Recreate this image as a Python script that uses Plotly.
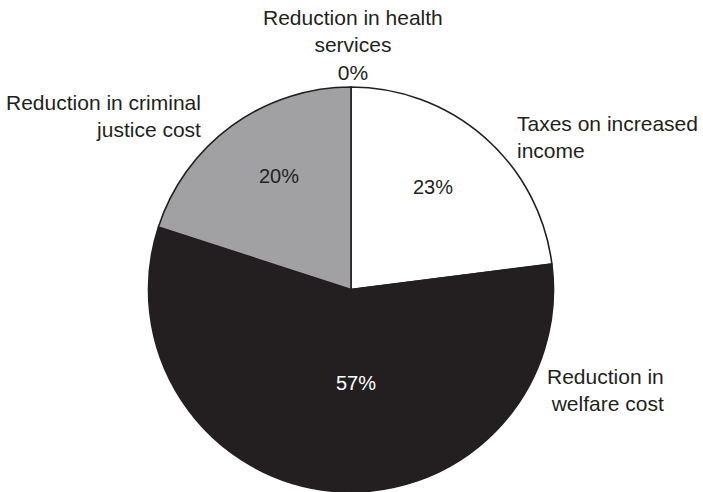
import plotly.graph_objects as go

categories = ["Reduction in health services", "Taxes on increased income",
              "Reduction in welfare cost", "Reduction in criminal justice cost"]
values = [0, 23, 57, 20]
colors = ["#ffffff", "#ffffff", "#231f20", "#a1a1a4"]
pct_colors = ["#231f20", "#231f20", "#ffffff", "#231f20"]

# label display (line-broken) and placement (paper coords)
label_text = ["Reduction in health<br>services<br>0%", "Taxes on increased<br>income",
              "Reduction in<br>welfare cost", "Reduction in criminal<br>justice cost"]
label_pos = [(353 / 703, 1 - 45 / 492, "center"), (515 / 703, 1 - 137 / 492, "left"),
             (666 / 703, 1 - 390 / 492, "right"), (203 / 703, 1 - 116 / 492, "right")]
pct_pos = [None, (433 / 703, 1 - 187 / 492), (356 / 703, 1 - 383 / 492), (279 / 703, 1 - 176 / 492)]

FONT = "Liberation Sans, Arial, sans-serif"
TXT = "#231f20"

fig = go.Figure(go.Pie(
    labels=categories, values=values, sort=False, direction="clockwise", rotation=0,
    marker=dict(colors=colors, line=dict(color="#231f20", width=1.6)),
    textinfo="none", hoverinfo="label+percent", showlegend=False,
    domain=dict(x=[148 / 703, 554 / 703], y=[0, 405 / 492]),
))

anns = []
for txt, (x, y, al) in zip(label_text, label_pos):
    anns.append(dict(x=x, y=y, xref="paper", yref="paper", text=txt, showarrow=False,
                     xanchor=al, yanchor="middle", align=al,
                     font=dict(family=FONT, size=21, color=TXT)))
for v, p, c in zip(values, pct_pos, pct_colors):
    if p is None:
        continue
    anns.append(dict(x=p[0], y=p[1], xref="paper", yref="paper", text=f"{v}%", showarrow=False,
                     xanchor="center", yanchor="middle",
                     font=dict(family=FONT, size=20, color=c)))

fig.update_layout(
    width=703, height=492, margin=dict(l=0, r=0, t=0, b=0),
    paper_bgcolor="white", plot_bgcolor="white", annotations=anns,
)
fig.write_html("out.html", config={"displayModeBar": False},
               post_script="document.body.style.margin='0';")
